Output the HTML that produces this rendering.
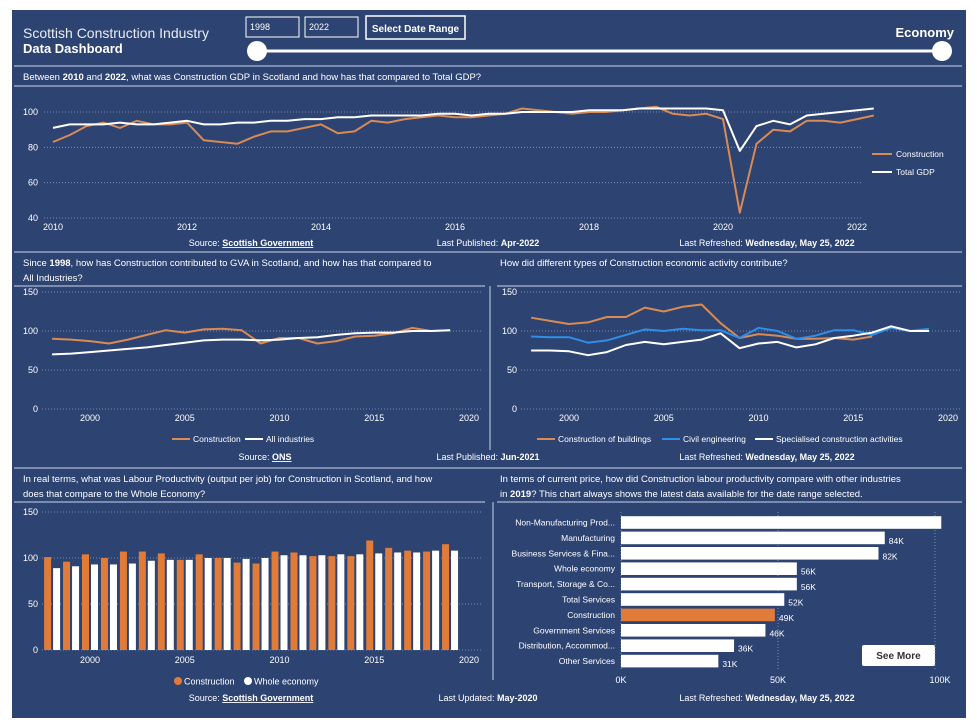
<!DOCTYPE html>
<html><head><meta charset="utf-8">
<style>
html,body{margin:0;padding:0;background:#fff;}
svg{display:block;font-family:"Liberation Sans",sans-serif;}
</style></head>
<body>
<svg id="dash" width="977" height="726" viewBox="0 0 977 726">
<rect x="12" y="10" width="954" height="708" fill="#2d4371"/>
<g id="static" fill="#fff" font-size="10">
  <text x="23" y="38" font-size="14" fill="#e8ecf4">Scottish Construction Industry</text>
  <text x="23" y="53" font-size="13" font-weight="bold">Data Dashboard</text>
  <rect x="246" y="17" width="53" height="20" fill="none" stroke="#fff"/>
  <text x="250" y="30" font-size="9">1998</text>
  <rect x="305" y="17" width="53" height="20" fill="none" stroke="#fff"/>
  <text x="309" y="30" font-size="9">2022</text>
  <rect x="366" y="16" width="99" height="23" fill="none" stroke="#fff" stroke-width="1.5"/>
  <text x="415.5" y="32" font-size="10" font-weight="bold" text-anchor="middle">Select Date Range</text>
  <line x1="257" y1="51" x2="942" y2="51" stroke="#fff" stroke-width="3"/>
  <circle cx="257" cy="51" r="10" fill="#fff"/>
  <circle cx="942" cy="51" r="10" fill="#fff"/>
  <text x="954" y="37" font-size="13" font-weight="bold" text-anchor="end">Economy</text>
  <line x1="14" y1="66" x2="962" y2="66" stroke="#c9d4ea"/>
  <text x="23" y="80" font-size="9.5">Between <tspan font-weight="bold">2010</tspan> and  <tspan font-weight="bold">2022</tspan>, what was Construction GDP in Scotland and how has that compared to Total GDP?</text>
  <line x1="14" y1="86" x2="962" y2="86" stroke="#c9d4ea"/>
  <g font-size="9" text-anchor="middle">
    <text x="251" y="246">Source: <tspan font-weight="bold" text-decoration="underline">Scottish Government</tspan></text>
    <text x="488" y="246">Last Published: <tspan font-weight="bold">Apr-2022</tspan></text>
    <text x="767" y="246">Last Refreshed: <tspan font-weight="bold">Wednesday, May 25, 2022</tspan></text>
  </g>
  <line x1="14" y1="252" x2="962" y2="252" stroke="#c9d4ea"/>
  <text x="23" y="266" font-size="9.5">Since <tspan font-weight="bold">1998</tspan>, how has Construction contributed to GVA in Scotland, and how has that compared to</text>
  <text x="23" y="281" font-size="9.5">All Industries?</text>
  <line x1="14" y1="286" x2="485" y2="286" stroke="#c9d4ea"/>
  <text x="500" y="266" font-size="9.5">How did different types of Construction economic activity contribute?</text>
  <line x1="497" y1="286" x2="962" y2="286" stroke="#c9d4ea"/>
  <line x1="490" y1="286" x2="490" y2="450" stroke="#c9d4ea"/>
  <g font-size="9" text-anchor="middle">
    <text x="265" y="460">Source: <tspan font-weight="bold" text-decoration="underline">ONS</tspan></text>
    <text x="488" y="460">Last Published: <tspan font-weight="bold">Jun-2021</tspan></text>
    <text x="767" y="460">Last Refreshed: <tspan font-weight="bold">Wednesday, May 25, 2022</tspan></text>
  </g>
  <line x1="14" y1="468" x2="962" y2="468" stroke="#c9d4ea"/>
  <text x="23" y="482" font-size="9.5">In real terms, what was Labour Productivity (output per job) for Construction in Scotland, and how</text>
  <text x="23" y="497" font-size="9.5">does that compare to the Whole Economy?</text>
  <line x1="14" y1="502" x2="485" y2="502" stroke="#c9d4ea"/>
  <text x="500" y="482" font-size="9.5">In terms of current price, how did Construction labour productivity compare with other industries</text>
  <text x="500" y="497" font-size="9.5">in <tspan font-weight="bold">2019</tspan>? This chart always shows the latest data available for the date range selected.</text>
  <line x1="497" y1="502" x2="962" y2="502" stroke="#c9d4ea"/>
  <line x1="493" y1="502" x2="493" y2="680" stroke="#c9d4ea"/>
  <g font-size="9" text-anchor="middle">
    <text x="251" y="701">Source: <tspan font-weight="bold" text-decoration="underline">Scottish Government</tspan></text>
    <text x="488" y="701">Last Updated: <tspan font-weight="bold">May-2020</tspan></text>
    <text x="767" y="701">Last Refreshed: <tspan font-weight="bold">Wednesday, May 25, 2022</tspan></text>
  </g>
  <rect x="862" y="645" width="73" height="21" rx="2" fill="#fff"/>
  <text x="898.5" y="659" font-size="10" font-weight="bold" fill="#333" text-anchor="middle">See More</text>
</g>
<g id="charts"></g>
</svg>
<script>
// ---- GDP chart data (quarterly, 2010 Q1 - 2022 Q2)
const gdpStartYear = 2010;
const gdpConstruction = [83,87,92,94, 91,95,93,93, 94,84,83,82, 86,89,89,91, 93,88,89,95, 94,96,97,98, 97,97,98,99, 102,101,100,99, 100,100,101,102, 103,99,98,99, 96,43,82,90, 89,95,95,94, 96,98];
const gdpTotal = [91,93,93,93, 94,93,93,94, 95,93,93,94, 94,95,95,96, 96,97,97,98, 98,98,98,99, 99,98,99,99, 100,100,100,100, 101,101,101,102, 102,102,102,102, 101,78,92,95, 93,98,99,100, 101,102];
const gdpYTicks = [40,60,80,100];
const gdpXTicks = [2010,2012,2014,2016,2018,2020,2022];
// ---- GVA chart data (1998-2019)
const gvaYears = [1998,1999,2000,2001,2002,2003,2004,2005,2006,2007,2008,2009,2010,2011,2012,2013,2014,2015,2016,2017,2018,2019];
const gvaConstruction = [90,89,87,84,89,95,101,98,102,103,101,84,91,91,84,87,93,94,97,104,100,101];
const gvaAllIndustries = [70,71,73,75,77,79,82,85,88,89,89,88,89,91,92,95,97,98,98,100,100,101];
// ---- Activity chart data
const actBuildings = [117,113,109,111,118,118,130,125,131,134,110,91,96,94,90,90,91,89,93];
const actCivil = [93,92,92,85,88,95,102,100,103,101,101,91,104,100,90,94,101,101,95,104,100,103];
const actSpecialised = [75,75,74,69,73,82,86,83,86,89,97,78,84,86,79,83,91,94,98,106,100,100];
const yearTicks = [2000,2005,2010,2015,2020];
const indexTicks = [0,50,100,150];
// ---- Productivity bars (1998-2019)
const prodConstruction = [101,96,104,100,107,107,105,98,104,100,95,94,107,106,102,102,102,119,111,108,107,115];
const prodWhole = [89,91,93,93,94,97,98,98,100,100,99,100,103,103,103,104,104,105,106,106,108,108];
// ---- Industry comparison (thousands)
const industries = ["Non-Manufacturing Prod...","Manufacturing","Business Services & Fina...","Whole economy","Transport, Storage & Co...","Total Services","Construction","Government Services","Distribution, Accommod...","Other Services"];
const industryValues = [102,84,82,56,56,52,49,46,36,31];
const industryLabels = ["","84K","82K","56K","56K","52K","49K","46K","36K","31K"];
const industryTicks = [0,50,100];

const NS="http://www.w3.org/2000/svg";
const root=document.getElementById('charts');
const ORANGE="#e07b39", LORANGE="#d98a55", BLUE="#2f8fe8";
function mk(tag,attrs,parent){const e=document.createElementNS(NS,tag);for(const k in attrs)e.setAttribute(k,attrs[k]);(parent||root).appendChild(e);return e;}
function txt(x,y,s,anchor,size,parent){const t=mk('text',{x:x,y:y,fill:'#fff','font-size':size||9,'text-anchor':anchor||'middle'},parent);t.textContent=s;return t;}
function lin(d0,d1,r0,r1){return v=>r0+(v-d0)*(r1-r0)/(d1-d0);}
function grid(y,x0,x1,p){const l=mk('line',{x1:x0,x2:x1,y1:y,y2:y,stroke:'#8fa0c4','stroke-dasharray':'1,2','stroke-width':0.8},p);}
function path(xs,ys,color,w,name,p){let d='';xs.forEach((x,i)=>{d+=(i?'L':'M')+x.toFixed(1)+','+ys[i].toFixed(1);});const e=mk('path',{d:d,fill:'none',stroke:color,'stroke-width':w,'stroke-linejoin':'round'},p);return e;}

// GDP chart
(function(){
  const g=mk('g',{});
  const x=lin(2010,2022,53,857), y=lin(40,100,218,112);
  gdpYTicks.forEach(v=>{grid(y(v),44,862,g);const t=txt(38,y(v)+3,String(v),'end',9,g);});
  gdpXTicks.forEach(v=>{const t=txt(x(v),230,String(v),'middle',9,g);});
  const xs=gdpConstruction.map((_,i)=>x(gdpStartYear+i/4));
  path(xs,gdpConstruction.map(y),LORANGE,2,'construction-gdp-line',g);
  path(gdpTotal.map((_,i)=>x(gdpStartYear+i/4)),gdpTotal.map(y),'#fff',2,'total-gdp-line',g);
  const l1=mk('line',{x1:872,x2:892,y1:154,y2:154,stroke:LORANGE,'stroke-width':2},g);
  const t1=txt(896,157,'Construction','start',8.5,g);
  const l2=mk('line',{x1:872,x2:892,y1:172,y2:172,stroke:'#fff','stroke-width':2},g);
  const t2=txt(896,175,'Total GDP','start',8.5,g);
})();

// GVA chart & activity chart
function yearChart(x0yr,name,series,legend,legendX){
  const g=mk('g',{});
  const x=lin(2000,2020,x0yr,x0yr+379), y=lin(0,150,409,292);
  indexTicks.forEach(v=>{grid(y(v),x0yr-48,x0yr+392,g);const t=txt(x0yr-52,y(v)+3,String(v),'end',9,g);});
  yearTicks.forEach(v=>{const t=txt(x(v),421,String(v),'middle',9,g);});
  series.forEach(s=>path(s.v.map((_,i)=>x(gvaYears[i])),s.v.map(y),s.c,2,s.n,g));
  let lx=legendX;
  legend.forEach(s=>{const l=mk('line',{x1:lx,x2:lx+18,y1:439,y2:439,stroke:s.c,'stroke-width':2},g);
    const t=txt(lx+21,442,s.label,'start',8.5,g);lx+=21+s.w;});
}
yearChart(90,'gva-line-chart',[{v:gvaConstruction,c:LORANGE,n:'gva-construction-line'},{v:gvaAllIndustries,c:'#fff',n:'gva-all-industries-line'}],
  [{c:LORANGE,label:'Construction',n:'construction',w:52},{c:'#fff',label:'All industries',w:60,n:'all-industries'}],172);
yearChart(569,'activity-line-chart',[{v:actBuildings,c:LORANGE,n:'buildings-line'},{v:actCivil,c:BLUE,n:'civil-engineering-line'},{v:actSpecialised,c:'#fff',n:'specialised-line'}],
  [{c:LORANGE,label:'Construction of buildings',n:'buildings',w:104},{c:BLUE,label:'Civil engineering',n:'civil',w:72},{c:'#fff',label:'Specialised construction activities',n:'specialised',w:140}],537);

// productivity bars
(function(){
  const g=mk('g',{});
  const x=lin(2000,2020,90,469), y=lin(0,150,650,512);
  indexTicks.forEach(v=>{grid(y(v),42,482,g);const t=txt(38,y(v)+3,String(v),'end',9,g);});
  yearTicks.forEach(v=>{const t=txt(x(v),663,String(v),'middle',9,g);});
  gvaYears.forEach((yr,i)=>{
    const b1=mk('rect',{x:x(yr)-8,y:y(prodConstruction[i]),width:7,height:650-y(prodConstruction[i]),fill:ORANGE},g);
    
    const b2=mk('rect',{x:x(yr)+1,y:y(prodWhole[i]),width:7,height:650-y(prodWhole[i]),fill:'#fff'},g);
    
  });
  const c1=mk('circle',{cx:178,cy:681,r:4,fill:ORANGE},g);
  const t1=txt(184,684.5,'Construction','start',9,g);
  const c2=mk('circle',{cx:248,cy:681,r:4,fill:'#fff'},g);
  const t2=txt(254,684.5,'Whole economy','start',9,g);
})();

// industry bars
(function(){
  const g=mk('g',{});
  const x=lin(0,100,621,935);
  industryTicks.forEach(v=>{const l=mk('line',{x1:x(v),x2:x(v),y1:512,y2:670,stroke:'#8fa0c4','stroke-dasharray':'1,2','stroke-width':0.8},g);
    const t=txt(x(v)+(v===100?5:0),683,v+'K','middle',9,g);});
  industries.forEach((n,i)=>{
    const cy=522.5+i*15.4;
    const r=mk('rect',{x:x(0),y:cy-6.3,width:x(industryValues[i])-x(0),height:12.6,fill:n==='Construction'?ORANGE:'#fff'},g);
    
    const t=txt(615,cy+3,n,'end',8.5,g);
    if(industryLabels[i]){const v=txt(x(industryValues[i])+4,cy+6,industryLabels[i],'start',8.5,g);}
  });
})();
</script>
</body></html>
